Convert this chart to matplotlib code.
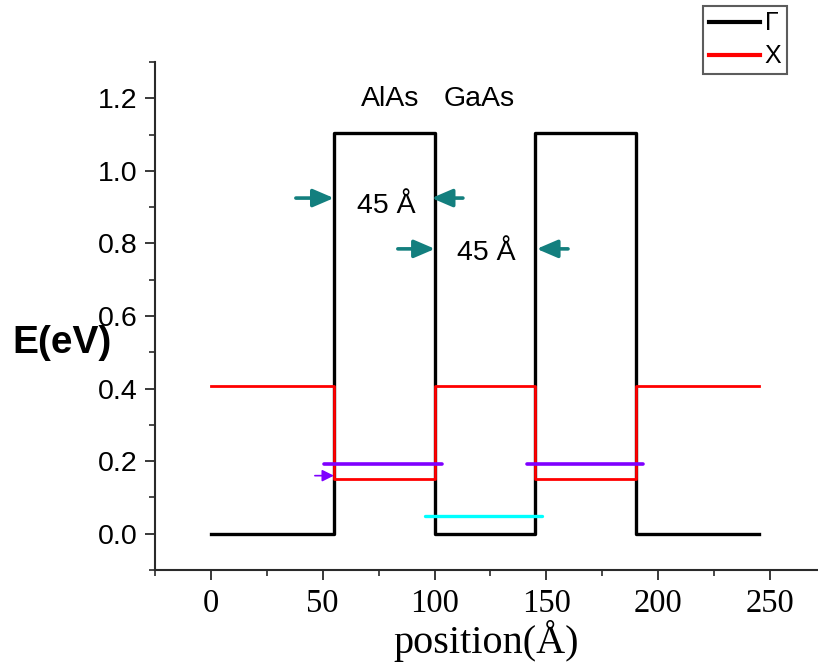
import matplotlib
matplotlib.use("Agg")
import matplotlib.pyplot as plt
from matplotlib.ticker import MultipleLocator, FormatStrFormatter

# ---- data ----
boundaries = [0, 55, 100, 145, 190, 245]          # layer interfaces (Å)
gamma_levels = [0.0, 1.105, 0.0, 1.105, 0.0]      # Γ band per layer (eV)
x_levels = [0.407, 0.151, 0.407, 0.151, 0.407]    # X band per layer (eV)
purple_segments = [(50.5, 103.2), (141.2, 193.3)]
purple_level = 0.193
cyan_segment = (95.7, 147.9)
cyan_level = 0.05
purple_arrow = ((46.5, 0.160), (55.0, 0.160))
teal_arrows = [((38.0, 0.925), (55.0, 0.925)),
               ((112.7, 0.925), (98.7, 0.925)),
               ((83.6, 0.785), (100.2, 0.785)),
               ((159.7, 0.785), (145.7, 0.785))]
width_labels = [(78.3, 0.884, "45 Å"), (123.3, 0.754, "45 Å")]
layer_labels = [(80, 1.18, "AlAs"), (120, 1.18, "GaAs")]
x_ticks = [0, 50, 100, 150, 200, 250]
y_ticks = [0.0, 0.2, 0.4, 0.6, 0.8, 1.0, 1.2]


def step_profile(bounds, levels):
    xs, ys = [], []
    for i, lv in enumerate(levels):
        xs += [bounds[i], bounds[i + 1]]
        ys += [lv, lv]
    return xs, ys


SANS = "Liberation Sans"
SERIF = "Liberation Serif"

fig = plt.figure(figsize=(8.18, 6.66), dpi=100)
ax = fig.add_axes([155 / 818, 1 - 570 / 666, (818 - 155) / 818, (570 - 62) / 666])

gx, gy = step_profile(boundaries, gamma_levels)
xx, xy = step_profile(boundaries, x_levels)
ax.plot(gx, gy, color="black", lw=2.4, label="Γ", zorder=3)
ax.plot(xx, xy, color="#ff0000", lw=2.0, label="X", zorder=4)

for a, b in purple_segments:
    ax.plot([a, b], [purple_level, purple_level], color="#7f00ff", lw=2.6,
            solid_capstyle="round", zorder=5)
ax.plot(list(cyan_segment), [cyan_level, cyan_level], color="#00ffff", lw=2.4,
        solid_capstyle="round", zorder=5)

ax.annotate("", xy=purple_arrow[1], xytext=purple_arrow[0],
            arrowprops=dict(arrowstyle="-|>,head_length=0.5,head_width=0.25",
                            color="#7f00ff", lw=1.2, mutation_scale=14,
                            shrinkA=0, shrinkB=0), zorder=6)
for tail, head in teal_arrows:
    ax.annotate("", xy=head, xytext=tail,
                arrowprops=dict(arrowstyle="-|>,head_length=0.7,head_width=0.3",
                                color="#137f7e", lw=2.6, mutation_scale=18,
                                shrinkA=0, shrinkB=0), zorder=6)

for x, y, s in width_labels:
    ax.text(x, y, s, ha="center", va="baseline", fontsize=20.5, family=SANS)
for x, y, s in layer_labels:
    ax.text(x, y, s, ha="center", va="baseline", fontsize=20.5, family=SANS)

ax.set_xlim(-25, 271.5)
ax.set_ylim(-0.1, 1.3)
ax.set_xticks(x_ticks)
ax.set_yticks(y_ticks)
ax.xaxis.set_minor_locator(MultipleLocator(25))
ax.yaxis.set_minor_locator(MultipleLocator(0.1))
ax.yaxis.set_major_formatter(FormatStrFormatter("%.1f"))

for sp in ["top", "right"]:
    ax.spines[sp].set_visible(False)
for sp in ["left", "bottom"]:
    ax.spines[sp].set_linewidth(1.5)
    ax.spines[sp].set_color("#2a2a2a")

ax.tick_params(which="major", direction="out", length=7.5, width=1.3, color="#2a2a2a")
ax.tick_params(which="minor", direction="out", length=4.5, width=1.2, color="#2a2a2a")
ax.tick_params(axis="x", which="major", pad=6)
ax.tick_params(axis="y", which="major", pad=5)
for lbl in ax.get_xticklabels():
    lbl.set_fontfamily(SERIF)
    lbl.set_fontsize(23.5)
for lbl in ax.get_yticklabels():
    lbl.set_fontfamily(SANS)
    lbl.set_fontsize(20.5)

fig.text(0.5 * (155 + 818) / 818, 1 - 653 / 666, "position(Å)", ha="center",
         va="baseline", fontsize=29, family=SERIF)
fig.text(12 / 818, 1 - 353 / 666, "E(eV)", ha="left", va="baseline",
         fontsize=28, fontweight="bold", family=SANS)

leg = fig.legend(loc="upper left", bbox_to_anchor=(703 / 818, 1 - 6 / 666),
                 bbox_transform=fig.transFigure, frameon=True, fancybox=False,
                 prop={"family": SANS, "size": 18}, handlelength=2.05,
                 handletextpad=0.2, labelspacing=0.35, borderpad=0.22,
                 borderaxespad=0)
leg.get_frame().set_edgecolor("#333333")
leg.get_frame().set_linewidth(1.5)
for line in leg.get_lines():
    line.set_linewidth(3)

fig.savefig("out.png", dpi=100)
